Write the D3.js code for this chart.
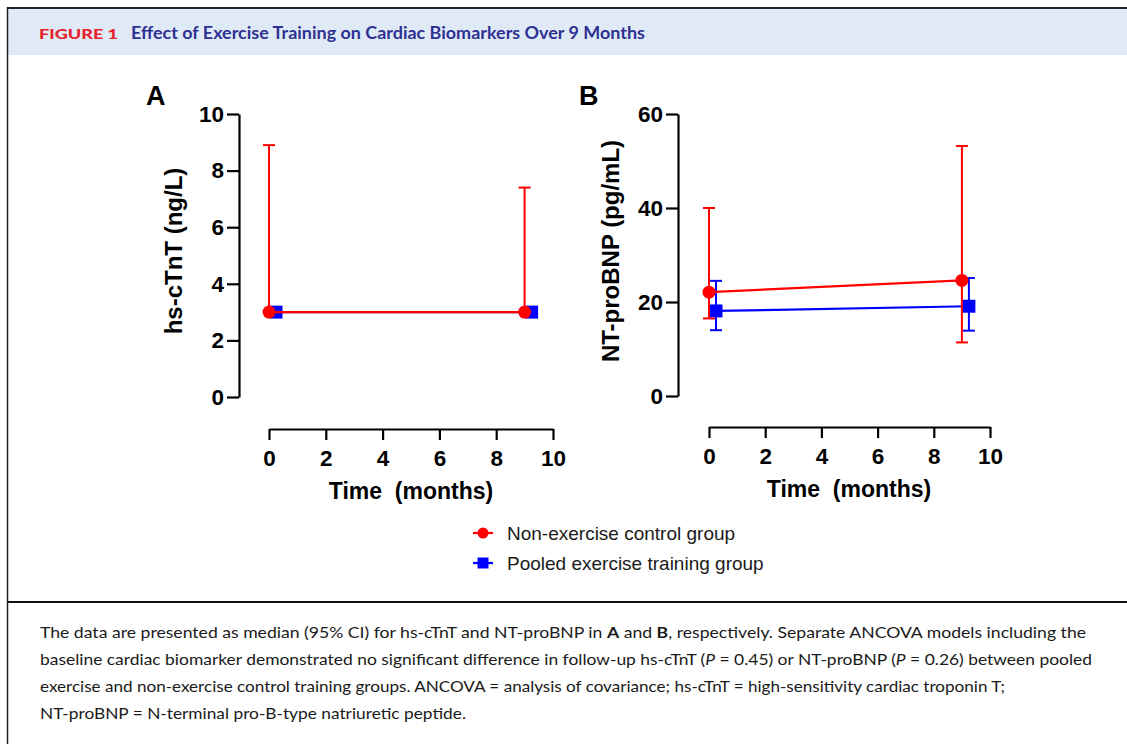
<!DOCTYPE html>
<html>
<head>
<meta charset="utf-8">
<script src="https://cdn.jsdelivr.net/npm/d3@7"></script>
<style>
  body { margin: 0; background: #fff; }
  svg { display: block; }
</style>
</head>
<body>
<div id="figure"></div>
<script>
// data (medians with 95% CI)
var months = [0, 9];
var groups = ["Non-exercise control group", "Pooled exercise training group"];

var tntControl = [3, 3];
var tntControlLo = [3, 3];
var tntControlHi = [8.9, 7.4];
var tntExercise = [3, 3];
var tntExerciseLo = [3, 3];
var tntExerciseHi = [3, 3];

var bnpControl = [22.1, 24.6];
var bnpControlLo = [16.5, 11.4];
var bnpControlHi = [40, 53.2];
var bnpExercise = [18.1, 19.1];
var bnpExerciseLo = [14.0, 13.9];
var bnpExerciseHi = [24.5, 25.1];

var xTicks = [0, 2, 4, 6, 8, 10];
var tntTicks = [0, 2, 4, 6, 8, 10];
var bnpTicks = [0, 20, 40, 60];

var captionLines = [
  [["The data are presented as median (95% CI) for hs-cTnT and NT-proBNP in ", ""], ["A", "b"], [" and ", ""], ["B", "b"], [", respectively. Separate ANCOVA models including the", ""]],
  [["baseline cardiac biomarker demonstrated no significant difference in follow-up hs-cTnT (", ""], ["P", "i"], [" = 0.45) or NT-proBNP (", ""], ["P", "i"], [" = 0.26) between pooled", ""]],
  [["exercise and non-exercise control training groups. ANCOVA = analysis of covariance; hs-cTnT = high-sensitivity cardiac troponin T;", ""]],
  [["NT-proBNP = N-terminal pro-B-type natriuretic peptide.", ""]]
];
var captionWidths = [1046, 1052, 965, 426];

var red = "#ff0000", blue = "#0000ff";
var W = 1127, H = 744;

var svg = d3.select("#figure").append("svg")
    .attr("width", W)
    .attr("height", H);

// frame + header band
svg.append("rect")
    .attr("x", 8).attr("y", 9).attr("width", W).attr("height", 46)
    .attr("fill", "#dfeaf6");
svg.append("line")
    .attr("x1", 7).attr("x2", W).attr("y1", 8).attr("y2", 8)
    .attr("stroke", "#222").attr("stroke-width", 2.2);
svg.append("line")
    .attr("x1", 7.5).attr("x2", 7.5).attr("y1", 7).attr("y2", H)
    .attr("stroke", "#222").attr("stroke-width", 1.5);
svg.append("line")
    .attr("x1", 7).attr("x2", W).attr("y1", 602).attr("y2", 602)
    .attr("stroke", "#111").attr("stroke-width", 2);

svg.append("text")
    .attr("x", 39).attr("y", 39)
    .attr("font-family", "Lato, sans-serif")
    .attr("font-weight", 900)
    .attr("font-size", "13.5px")
    .attr("fill", "#e8222b")
    .attr("textLength", 79)
    .attr("lengthAdjust", "spacingAndGlyphs")
    .text("FIGURE 1");
svg.append("text")
    .attr("x", 131).attr("y", 39)
    .attr("font-family", "Lato, sans-serif")
    .attr("font-weight", 700)
    .attr("font-size", "16.5px")
    .attr("fill", "#2e3192")
    .attr("textLength", 514)
    .attr("lengthAdjust", "spacingAndGlyphs")
    .text("Effect of Exercise Training on Cardiac Biomarkers Over 9 Months");

function panel(opt) {
  var g = svg.append("g");
  var x = d3.scaleLinear().domain([0, 10]).range(opt.xRange);
  var y = d3.scaleLinear().domain(opt.yDomain).range(opt.yRange);

  var xAxis = g.append("g")
      .attr("transform", "translate(0," + opt.xAxisY + ")")
      .call(d3.axisBottom(x).tickValues(xTicks).tickSize(11).tickSizeOuter(0).tickPadding(10));
  var yAxis = g.append("g")
      .attr("transform", "translate(" + opt.yAxisX + ",0)")
      .call(d3.axisLeft(y).tickValues(opt.yTicks).tickSize(12).tickSizeOuter(0).tickPadding(3));

  [xAxis, yAxis].forEach(function(a) {
    a.select(".domain").attr("stroke", "#000").attr("stroke-width", 2.2);
    a.selectAll(".tick line").attr("stroke", "#000").attr("stroke-width", 2.2);
    a.selectAll(".tick text")
      .attr("fill", "#000")
      .style("font-family", "'Liberation Sans', Arial, sans-serif")
      .style("font-weight", "bold")
      .style("font-size", "22.5px");
  });

  g.append("text")
      .attr("x", opt.panelX).attr("y", 105)
      .attr("font-family", "'Liberation Sans', Arial, sans-serif")
      .attr("font-weight", "bold")
      .attr("font-size", "27px")
      .text(opt.panel);

  g.append("text")
      .attr("transform", "translate(" + opt.yTitleX + "," + 251 + ") rotate(-90)")
      .attr("text-anchor", "middle")
      .attr("font-family", "'Liberation Sans', Arial, sans-serif")
      .attr("font-weight", "bold")
      .attr("font-size", "24px")
      .text(opt.yTitle);

  g.append("text")
      .attr("x", opt.xTitleX).attr("y", opt.xTitleY)
      .attr("text-anchor", "middle")
      .attr("font-family", "'Liberation Sans', Arial, sans-serif")
      .attr("font-weight", "bold")
      .attr("font-size", "23px")
      .attr("xml:space", "preserve")
      .style("white-space", "pre")
      .text("Time  (months)");

  // one series: line + error bars + markers
  function series(vals, lo, hi, color, shape, nudge) {
    var pts = months.map(function(m, i) {
      return {x: x(m) + nudge, v: y(vals[i]), lo: y(lo[i]), hi: y(hi[i])};
    });
    var s = g.append("g");
    s.append("path")
        .datum(pts)
        .attr("fill", "none")
        .attr("stroke", color)
        .attr("stroke-width", 2.2)
        .attr("d", d3.line().x(function(d) { return d.x; }).y(function(d) { return d.v; }));
    var eb = s.selectAll(".eb").data(pts).enter().append("g");
    eb.append("line")
        .attr("x1", function(d) { return d.x; }).attr("x2", function(d) { return d.x; })
        .attr("y1", function(d) { return d.lo; }).attr("y2", function(d) { return d.hi; })
        .attr("stroke", color).attr("stroke-width", 2);
    eb.filter(function(d) { return Math.abs(d.hi - d.v) > 1; }).append("line")
        .attr("x1", function(d) { return d.x - 6; }).attr("x2", function(d) { return d.x + 6; })
        .attr("y1", function(d) { return d.hi; }).attr("y2", function(d) { return d.hi; })
        .attr("stroke", color).attr("stroke-width", 2);
    eb.filter(function(d) { return Math.abs(d.lo - d.v) > 1; }).append("line")
        .attr("x1", function(d) { return d.x - 6; }).attr("x2", function(d) { return d.x + 6; })
        .attr("y1", function(d) { return d.lo; }).attr("y2", function(d) { return d.lo; })
        .attr("stroke", color).attr("stroke-width", 2);
    if (shape === "circle") {
      s.selectAll(".pt").data(pts).enter().append("circle")
          .attr("cx", function(d) { return d.x; })
          .attr("cy", function(d) { return d.v; })
          .attr("r", 6.5)
          .attr("fill", color);
    } else {
      s.selectAll(".pt").data(pts).enter().append("rect")
          .attr("x", function(d) { return d.x - 6.5; })
          .attr("y", function(d) { return d.v - 6.5; })
          .attr("width", 13).attr("height", 13)
          .attr("fill", color);
    }
  }

  series(opt.ex, opt.exLo, opt.exHi, blue, "square", 7);
  series(opt.ctrl, opt.ctrlLo, opt.ctrlHi, red, "circle", 0);
}

panel({
  panel: "A", panelX: 146,
  xRange: [269, 553], xAxisY: 429,
  yDomain: [0, 10], yRange: [397, 114], yAxisX: 239, yTicks: tntTicks,
  yTitle: "hs-cTnT (ng/L)", yTitleX: 182,
  xTitleX: 411, xTitleY: 499,
  ctrl: tntControl, ctrlLo: tntControlLo, ctrlHi: tntControlHi,
  ex: tntExercise, exLo: tntExerciseLo, exHi: tntExerciseHi
});

panel({
  panel: "B", panelX: 579,
  xRange: [709, 990], xAxisY: 427,
  yDomain: [0, 60], yRange: [396, 114], yAxisX: 678, yTicks: bnpTicks,
  yTitle: "NT-proBNP (pg/mL)", yTitleX: 619,
  xTitleX: 849, xTitleY: 497,
  ctrl: bnpControl, ctrlLo: bnpControlLo, ctrlHi: bnpControlHi,
  ex: bnpExercise, exLo: bnpExerciseLo, exHi: bnpExerciseHi
});

// legend
var legend = svg.append("g").attr("transform", "translate(473,533)");
groups.forEach(function(name, i) {
  var row = legend.append("g").attr("transform", "translate(0," + (i * 30) + ")");
  var c = i === 0 ? red : blue;
  row.append("line").attr("x1", 0).attr("x2", 20).attr("y1", 0).attr("y2", 0)
      .attr("stroke", c).attr("stroke-width", 2.2);
  if (i === 0) {
    row.append("circle").attr("cx", 10).attr("cy", 0).attr("r", 5.5).attr("fill", c);
  } else {
    row.append("rect").attr("x", 4.5).attr("y", -5.5).attr("width", 11).attr("height", 11).attr("fill", c);
  }
  row.append("text")
      .attr("x", 34).attr("y", 7)
      .attr("font-family", "'Liberation Sans', Arial, sans-serif")
      .attr("font-size", "19px")
      .attr("fill", "#1a1a1a")
      .text(name);
});

// caption
captionLines.forEach(function(parts, i) {
  var t = svg.append("text")
      .attr("x", 40).attr("y", 638 + i * 27)
      .attr("font-family", "Lato, sans-serif")
      .attr("font-size", "16px")
      .attr("fill", "#1a1a1a")
      .attr("textLength", captionWidths[i])
      .attr("lengthAdjust", "spacingAndGlyphs")
      .attr("xml:space", "preserve");
  parts.forEach(function(p) {
    var ts = t.append("tspan").text(p[0]);
    if (p[1] === "b") ts.attr("font-weight", 700);
    if (p[1] === "i") ts.attr("font-style", "italic");
  });
});
</script>
</body>
</html>
